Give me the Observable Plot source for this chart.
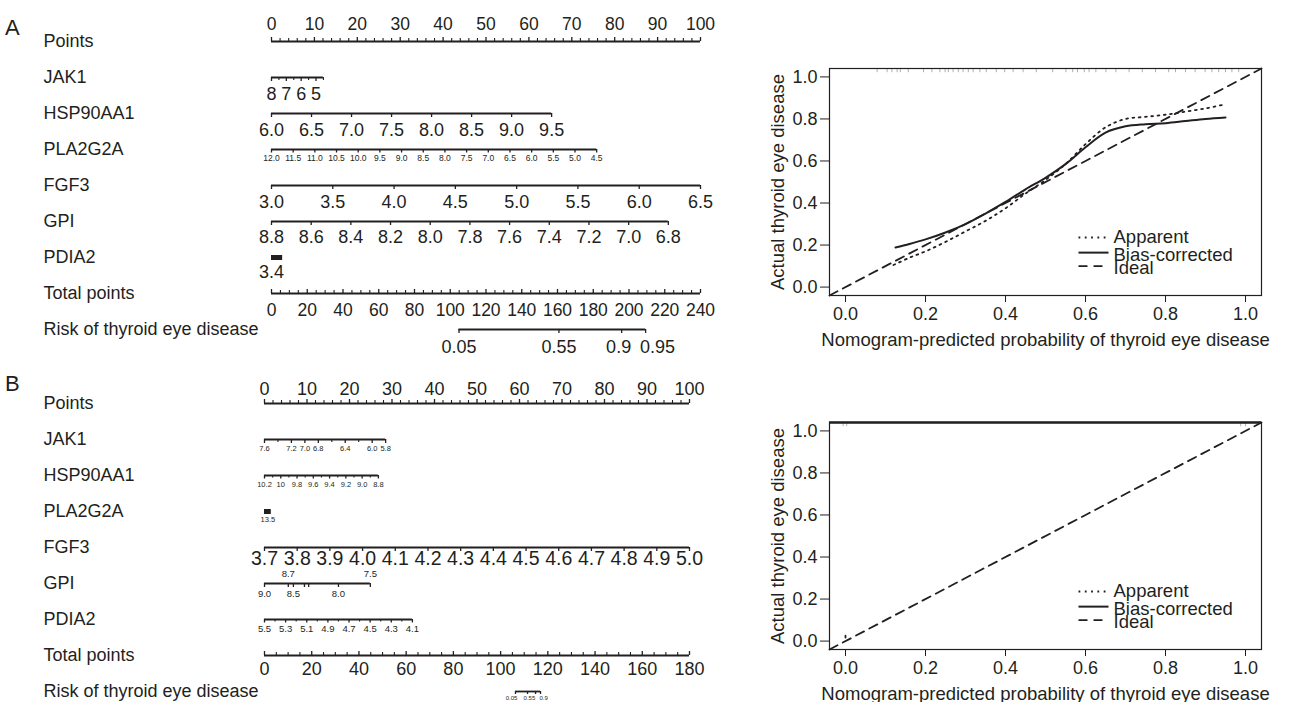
<!DOCTYPE html>
<html><head><meta charset="utf-8">
<script src="https://cdn.jsdelivr.net/npm/d3@7"></script>
<script src="https://cdn.jsdelivr.net/npm/@observablehq/plot@0.6"></script>
<style>
html,body{margin:0;padding:0;background:#fff;overflow:hidden;}
#root{position:relative;width:1290px;height:702px;font-family:"Liberation Sans",Arial,Helvetica,sans-serif;color:#231f20;}
.panel{position:absolute;}
.tag{position:absolute;left:5px;font-size:22px;line-height:22px;}
.cal [aria-label="x-axis"] text, .cal [aria-label="y-axis"] text{font-size:18px;}
</style></head><body><div id="root"></div>
<script>
// ---------------- DATA ----------------
const rowNames = ["Points","JAK1","HSP90AA1","PLA2G2A","FGF3","GPI","PDIA2","Total points","Risk of thyroid eye disease"];

// Panel A nomogram
const pointsTicks = [0,2,4,6,8,10,12,14,16,18,20,22,24,26,28,30,32,34,36,38,40,42,44,46,48,50,52,54,56,58,60,62,64,66,68,70,72,74,76,78,80,82,84,86,88,90,92,94,96,98,100];
const pointsLabels = [0,10,20,30,40,50,60,70,80,90,100];
const jak1A_values = [8,7.5,7,6.5,6,5.5,5,4.5];
const jak1A_labels = [8,7,6,5];
const jak1A_points = [0,12.1];
const hspA_values = [6.0,6.5,7.0,7.5,8.0,8.5,9.0,9.5];
const hspA_points = [0,65.3];
const plaA_values = [12.0,11.5,11.0,10.5,10.0,9.5,9.0,8.5,8.0,7.5,7.0,6.5,6.0,5.5,5.0,4.5];
const plaA_points = [0,75.8];
const fgfA_values = [3.0,3.5,4.0,4.5,5.0,5.5,6.0,6.5];
const fgfA_points = [0,100];
const gpiA_values = [8.8,8.6,8.4,8.2,8.0,7.8,7.6,7.4,7.2,7.0,6.8];
const gpiA_points = [0,92.5];
const pdiaA_value = 3.4;
const pdiaA_points = [0,2.6];
const totalA_max = 240;
const totalA_ticks = [0,5,10,15,20,25,30,35,40,45,50,55,60,65,70,75,80,85,90,95,100,105,110,115,120,125,130,135,140,145,150,155,160,165,170,175,180,185,190,195,200,205,210,215,220,225,230,235,240];
const totalA_labels = [0,20,40,60,80,100,120,140,160,180,200,220,240];
const riskA_values = [0.05,0.55,0.9,0.95];
const riskA_total = [104.9,160.8,195.9,209.3];
const riskA_labelTotal = [104.9,160.8,194.2,215.9];

// Panel B nomogram
const jak1B_values = [7.6,7.4,7.2,7.0,6.8,6.6,6.4,6.2,6.0,5.8];
const jak1B_labels = [7.6,7.2,7.0,6.8,6.4,6.0,5.8];
const jak1B_points = [0,28.5];
const hspB_values = [10.2,10.1,10.0,9.9,9.8,9.7,9.6,9.5,9.4,9.3,9.2,9.1,9.0,8.9,8.8];
const hspB_labels = [10.2,10,9.8,9.6,9.4,9.2,9.0,8.8];
const hspB_points = [0,26.8];
const plaB_value = 13.5;
const plaB_points = [0,1.6];
const fgfB_values = [3.7,3.8,3.9,4.0,4.1,4.2,4.3,4.4,4.5,4.6,4.7,4.8,4.9,5.0];
const fgfB_points = [0,100];
const gpiB_values = [9.0,8.7,8.5,8.3,8.2,8.0,7.5];
const gpiB_points = [0,5.6,6.8,9.4,10.4,17.4,24.9];
const gpiB_above = [8.7,7.5];
const gpiB_below = [9.0,8.5,8.0];
const pdiaB_values = [5.5,5.4,5.3,5.2,5.1,5.0,4.9,4.8,4.7,4.6,4.5,4.4,4.3,4.2,4.1];
const pdiaB_labels = [5.5,5.3,5.1,4.9,4.7,4.5,4.3,4.1];
const pdiaB_points = [0,34.8];
const totalB_max = 180;
const totalB_ticks = [0,5,10,15,20,25,30,35,40,45,50,55,60,65,70,75,80,85,90,95,100,105,110,115,120,125,130,135,140,145,150,155,160,165,170,175,180];
const totalB_labels = [0,20,40,60,80,100,120,140,160,180];
const riskB_values = [0.05,0.55,0.9,0.95];
const riskB_total = [106.3,111.4,114.8,116.9];
const riskB_labels = [0.05,0.55,0.9];
const riskB_labelTotal = [104.6,112.2,118.2];

// Calibration A
const calTicks = [0,0.2,0.4,0.6,0.8,1.0];
const calA_rug = [0.079,0.104,0.116,0.129,0.137,0.157,0.195,0.216,0.236,0.249,0.257,0.269,0.282,0.294,0.307,0.319,0.336,0.352,0.377,0.398,0.419,0.444,0.477,0.518,0.551,0.568,0.580,0.597,0.609,0.626,0.651,0.676,0.709,0.742,0.775,0.808,0.825,0.850,0.874,0.899,0.916,0.933,0.950,0.966,0.983];
const calA_appX = [0.12,0.16,0.2,0.25,0.3,0.35,0.4,0.45,0.5,0.55,0.6,0.65,0.7,0.75,0.8,0.85,0.9,0.95];
const calA_appY = [0.105,0.14,0.17,0.215,0.265,0.315,0.375,0.445,0.51,0.585,0.68,0.76,0.80,0.81,0.82,0.835,0.85,0.87];
const calA_biasX = [0.125,0.16,0.2,0.25,0.3,0.35,0.4,0.45,0.5,0.55,0.6,0.65,0.7,0.75,0.8,0.85,0.9,0.95];
const calA_biasY = [0.188,0.205,0.227,0.26,0.30,0.35,0.405,0.465,0.52,0.585,0.665,0.735,0.765,0.775,0.78,0.79,0.80,0.807];
const idealXY = [-0.04,1.04];
// Calibration B
const calB_rug = [-0.006,0.003,0.988,1.0];
const calB_appX = [0.0,0.0];
const calB_appY = [0.017,0.04];
const legendLabels = ["Apparent","Bias-corrected","Ideal"];

// ---------------- DRAWING ----------------
const INK = "#231f20";
const FONT = '"Liberation Sans", Arial, Helvetica, sans-serif';
const root = document.getElementById("root");

function lin(values, pts) {
  const t0 = values[0], t1 = values[values.length - 1];
  return v => pts[0] + (v - t0) / (t1 - t0) * (pts[1] - pts[0]);
}
const fmt1 = v => v.toFixed(1);

function axisSpec(row, values, pts, labels, fmt, opts) {
  const f = lin(values, pts);
  const lab = new Set(labels.map(String));
  return Object.assign({
    row,
    ticks: values.map(v => ({row, pts: f(v), major: lab.has(String(v))})),
    labels: labels.map(v => ({row, pts: f(v), text: fmt(v)})),
    from: pts[0], to: pts[1]
  }, opts);
}

function nomogram(specs, xRange, height, top) {
  const marks = [];
  marks.push(Plot.text(rowNames, {frameAnchor: "left", y: d => d, text: d => d, dx: 43, textAnchor: "start", fontSize: 18, fill: INK}));
  for (const s of specs) {
    if (s.bar) {
      marks.push(Plot.ruleY([s], {y: "row", x1: "from", x2: "to", stroke: INK, strokeWidth: 5}));
    } else {
      marks.push(Plot.ruleY([s], {y: "row", x1: "from", x2: "to", stroke: INK, strokeWidth: 1.8}));
      const up = s.dir === "up";
      const maj = s.ticks.filter(d => d.major), min = s.ticks.filter(d => !d.major);
      const L = s.tickLen || 4;
      marks.push(Plot.ruleX(maj, {x: "pts", y1: "row", y2: "row", insetTop: up ? -L : 0, insetBottom: up ? 0 : -L, stroke: INK, strokeWidth: 1.3}));
      marks.push(Plot.ruleX(min, {x: "pts", y1: "row", y2: "row", insetTop: up ? -(L - 1) : 0, insetBottom: up ? 0 : -(L - 1), stroke: INK, strokeWidth: 1.1}));
    }
    for (const g of (s.labelGroups || [{labels: s.labels, dy: s.dy}])) {
      marks.push(Plot.text(g.labels, {x: "pts", y: "row", text: "text", dy: g.dy, fontSize: s.fontSize, fill: INK}));
    }
  }
  const svg = Plot.plot({
    width: 760, height, margin: 0,
    x: {domain: [0, 100], range: xRange, axis: null},
    y: {type: "point", domain: rowNames, range: [41, 329], padding: 0, axis: null},
    style: {fontFamily: FONT, background: "transparent", overflow: "visible"},
    marks
  });
  const div = document.createElement("div");
  div.className = "panel"; div.style.left = "0px"; div.style.top = top + "px";
  div.appendChild(svg); root.appendChild(div);
}

// ----- Nomogram A -----
const specsA = [
  {row: "Points", ticks: pointsTicks.map(v => ({row: "Points", pts: v, major: pointsLabels.includes(v)})),
   labels: pointsLabels.map(v => ({row: "Points", pts: v, text: String(v)})), from: 0, to: 100, dir: "up", dy: -17, fontSize: 17.5},
  axisSpec("JAK1", jak1A_values, jak1A_points, jak1A_labels, String, {dy: 17, fontSize: 18}),
  axisSpec("HSP90AA1", hspA_values, hspA_points, hspA_values, fmt1, {dy: 17, fontSize: 18}),
  axisSpec("PLA2G2A", plaA_values, plaA_points, plaA_values, fmt1, {dy: 8.5, fontSize: 8.5, tickLen: 3.5}),
  axisSpec("FGF3", fgfA_values, fgfA_points, fgfA_values, fmt1, {dy: 17, fontSize: 18}),
  axisSpec("GPI", gpiA_values, gpiA_points, gpiA_values, fmt1, {dy: 16, fontSize: 18}),
  {row: "PDIA2", bar: true, from: pdiaA_points[0], to: pdiaA_points[1], labels: [{row: "PDIA2", pts: pdiaA_points[0], text: fmt1(pdiaA_value)}], dy: 15, fontSize: 18},
  {row: "Total points", ticks: totalA_ticks.map(v => ({row: "Total points", pts: v / totalA_max * 100, major: totalA_labels.includes(v)})),
   labels: totalA_labels.map(v => ({row: "Total points", pts: v / totalA_max * 100, text: String(v)})), from: 0, to: 100, dir: "up", dy: 17, fontSize: 17.5},
  {row: rowNames[8], ticks: riskA_total.map(t => ({row: rowNames[8], pts: t / totalA_max * 100, major: true})),
   labels: riskA_values.map((v, i) => ({row: rowNames[8], pts: riskA_labelTotal[i] / totalA_max * 100, text: String(v)})),
   from: riskA_total[0] / totalA_max * 100, to: riskA_total[riskA_total.length - 1] / totalA_max * 100, dy: 18, fontSize: 18}
];
nomogram(specsA, [271, 700], 362, 0);

// ----- Nomogram B -----
const gpiB = gpiB_values.map((v, i) => ({row: "GPI", v, pts: gpiB_points[i]}));
const specsB = [
  {row: "Points", ticks: pointsTicks.map(v => ({row: "Points", pts: v, major: pointsLabels.includes(v)})),
   labels: pointsLabels.map(v => ({row: "Points", pts: v, text: String(v)})), from: 0, to: 100, dir: "up", dy: -14, fontSize: 18},
  axisSpec("JAK1", jak1B_values, jak1B_points, jak1B_labels, fmt1, {dy: 9, fontSize: 7.5}),
  axisSpec("HSP90AA1", hspB_values, hspB_points, hspB_labels, v => (v === 10 ? "10" : fmt1(v)), {dy: 9, fontSize: 7.5, tickLen: 3.5}),
  {row: "PLA2G2A", bar: true, from: plaB_points[0], to: plaB_points[1], labels: [{row: "PLA2G2A", pts: (plaB_points[0] + plaB_points[1]) / 2, text: fmt1(plaB_value)}], dy: 8, fontSize: 7.5},
  axisSpec("FGF3", fgfB_values, fgfB_points, fgfB_values, fmt1, {dy: 11, fontSize: 19.5}),
  {row: "GPI", ticks: gpiB.map(d => ({row: "GPI", pts: d.pts, major: true})), from: gpiB_points[0], to: gpiB_points[gpiB_points.length - 1], fontSize: 9.5,
   labelGroups: [
     {labels: gpiB.filter(d => gpiB_above.includes(d.v)).map(d => ({row: "GPI", pts: d.pts, text: fmt1(d.v)})), dy: -10},
     {labels: gpiB.filter(d => gpiB_below.includes(d.v)).map(d => ({row: "GPI", pts: d.pts, text: fmt1(d.v)})), dy: 10}
   ]},
  axisSpec("PDIA2", pdiaB_values, pdiaB_points, pdiaB_labels, fmt1, {dy: 9, fontSize: 9.5, tickLen: 3.5}),
  {row: "Total points", ticks: totalB_ticks.map(v => ({row: "Total points", pts: v / totalB_max * 100, major: totalB_labels.includes(v)})),
   labels: totalB_labels.map(v => ({row: "Total points", pts: v / totalB_max * 100, text: String(v)})), from: 0, to: 100, dir: "up", dy: 14, fontSize: 18},
  {row: rowNames[8], ticks: riskB_total.map(t => ({row: rowNames[8], pts: t / totalB_max * 100, major: true})),
   labels: riskB_labels.map((v, i) => ({row: rowNames[8], pts: riskB_labelTotal[i] / totalB_max * 100, text: String(v)})),
   from: riskB_total[0] / totalB_max * 100, to: riskB_total[riskB_total.length - 1] / totalB_max * 100, dy: 7, fontSize: 6, tickLen: 3}
];
nomogram(specsB, [264, 689], 340, 362);

// ----- Calibration plots -----
function calib({rug, appX, appY, biasX, biasY, height, top, thickTop}) {
  const app = appX.map((x, i) => ({x, y: appY[i]}));
  const bias = (biasX || []).map((x, i) => ({x, y: biasY[i]}));
  const ideal = idealXY.map(v => ({x: v, y: v}));
  const legLineY = [0.236, 0.164, 0.10];
  const legTextY = [0.238, 0.152, 0.092];
  const leg = legendLabels.map((label, i) => ({label, y: legLineY[i], ty: legTextY[i]}));
  const marks = [
    Plot.ruleX(rug, {x: d => d, y1: 1.04, y2: 1.02, stroke: "#b0b0b0", strokeWidth: 1}),
    Plot.line(ideal, {x: "x", y: "y", stroke: INK, strokeWidth: 1.8, strokeDasharray: "9,6"}),
    Plot.line(app, {x: "x", y: "y", stroke: INK, strokeWidth: 1.8, strokeDasharray: "1.8,4.5", curve: "catmull-rom"}),
    Plot.line(bias, {x: "x", y: "y", stroke: INK, strokeWidth: 2, curve: "catmull-rom"}),
    Plot.link([leg[0]], {x1: 0.5825, x2: 0.6575, y1: "y", y2: "y", stroke: INK, strokeWidth: 1.8, strokeDasharray: "1.8,4.5"}),
    Plot.link([leg[1]], {x1: 0.5825, x2: 0.6575, y1: "y", y2: "y", stroke: INK, strokeWidth: 2}),
    Plot.link([leg[2]], {x1: 0.5825, x2: 0.6575, y1: "y", y2: "y", stroke: INK, strokeWidth: 1.8, strokeDasharray: "9,6"}),
    Plot.text(leg, {x: 0.67, y: "ty", text: "label", textAnchor: "start", fontSize: 18.5, fill: INK}),
    Plot.frame({stroke: INK, strokeWidth: 1.2}),
    Plot.text(["Nomogram-predicted probability of thyroid eye disease"], {frameAnchor: "bottom", dy: 45, textAnchor: "middle", lineAnchor: "middle", fontSize: 18.5, fill: INK}),
    Plot.text(["Actual thyroid eye disease"], {frameAnchor: "left", dx: -51, rotate: -90, textAnchor: "middle", lineAnchor: "middle", fontSize: 18.5, fill: INK})
  ];
  if (thickTop) marks.push(Plot.ruleY([1.04], {stroke: INK, strokeWidth: 2.6}));
  const svg = Plot.plot({
    width: 530, height, marginLeft: 69, marginRight: 29, marginTop: 68, marginBottom: height - 295,
    x: {domain: [-0.04, 1.04], ticks: calTicks, tickFormat: fmt1, tickSize: 7, tickPadding: 5, label: null},
    y: {domain: [-0.04, 1.04], ticks: calTicks, tickFormat: fmt1, tickSize: 9, tickPadding: 3, label: null},
    style: {fontFamily: FONT, fontSize: "18px", color: INK, background: "transparent", overflow: "visible"},
    marks
  });
  const div = document.createElement("div");
  div.className = "panel cal"; div.style.left = "760px"; div.style.top = top + "px";
  div.appendChild(svg); root.appendChild(div);
}
calib({rug: calA_rug, appX: calA_appX, appY: calA_appY, biasX: calA_biasX, biasY: calA_biasY, height: 351, top: 0});
calib({rug: calB_rug, appX: calB_appX, appY: calB_appY, biasX: [], biasY: [], height: 348, top: 354, thickTop: true});

// panel tags
for (const [t, y] of [["A", 17], ["B", 373]]) {
  const d = document.createElement("div"); d.className = "tag"; d.style.top = y + "px"; d.textContent = t; root.appendChild(d);
}
</script></body></html>
